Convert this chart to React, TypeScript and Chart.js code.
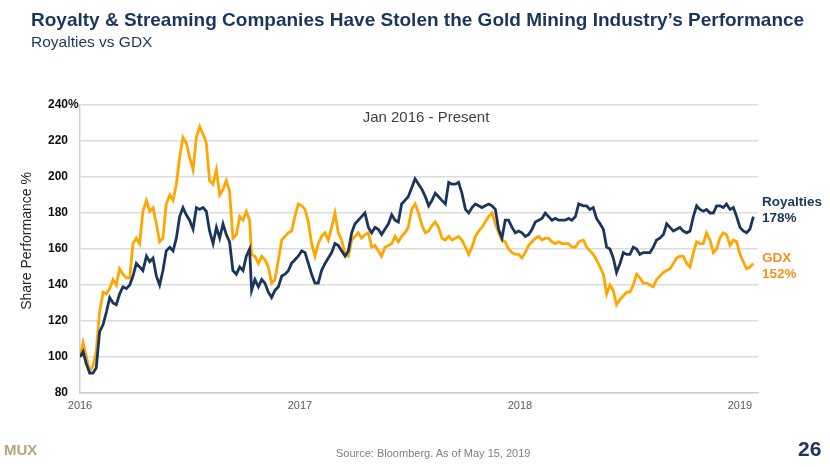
import React, { useEffect, useRef } from 'react';
import { Chart, registerables } from 'chart.js';

Chart.register(...registerables);

// Decimal-year dates of sampled points (Jan 2016 onward)
const dates = [
  2016.000, 2016.014, 2016.029, 2016.044, 2016.059, 2016.074, 2016.089, 2016.105, 2016.120, 2016.135,
  2016.150, 2016.165, 2016.180, 2016.195, 2016.211, 2016.226, 2016.241, 2016.256, 2016.271, 2016.286,
  2016.302, 2016.317, 2016.332, 2016.347, 2016.362, 2016.377, 2016.392, 2016.408, 2016.423, 2016.438,
  2016.453, 2016.468, 2016.483, 2016.498, 2016.514, 2016.529, 2016.544, 2016.559, 2016.574, 2016.589,
  2016.605, 2016.620, 2016.635, 2016.650, 2016.665, 2016.680, 2016.695, 2016.711, 2016.726, 2016.741,
  2016.756, 2016.771,
  2016.780, 2016.795, 2016.811, 2016.826, 2016.841, 2016.856, 2016.871, 2016.886, 2016.902, 2016.917,
  2016.932, 2016.947, 2016.962, 2016.977, 2016.992, 2017.008, 2017.023, 2017.038, 2017.053, 2017.068,
  2017.083, 2017.098, 2017.114, 2017.129, 2017.144, 2017.159, 2017.174, 2017.189, 2017.205, 2017.220,
  2017.235, 2017.250, 2017.265, 2017.280, 2017.295, 2017.311, 2017.326, 2017.341, 2017.356, 2017.371,
  2017.386, 2017.402, 2017.417, 2017.432, 2017.447, 2017.462, 2017.477, 2017.492, 2017.508, 2017.523,
  2017.539, 2017.555, 2017.570, 2017.585, 2017.600, 2017.615, 2017.630, 2017.645, 2017.661, 2017.676,
  2017.691, 2017.706, 2017.721, 2017.736, 2017.752, 2017.767, 2017.782, 2017.797, 2017.812, 2017.827,
  2017.842, 2017.858, 2017.873, 2017.888, 2017.903, 2017.918, 2017.933, 2017.948, 2017.964, 2017.979,
  2017.994, 2018.009, 2018.024, 2018.039, 2018.055, 2018.070, 2018.085, 2018.100, 2018.115, 2018.130,
  2018.145, 2018.161, 2018.176, 2018.191, 2018.206, 2018.221, 2018.236, 2018.252, 2018.267,
  2018.288, 2018.303, 2018.318, 2018.333, 2018.348, 2018.364, 2018.379, 2018.394, 2018.409, 2018.424,
  2018.439, 2018.455, 2018.470, 2018.485, 2018.500, 2018.515, 2018.530, 2018.545, 2018.561, 2018.576,
  2018.591, 2018.606, 2018.621, 2018.636, 2018.652, 2018.667, 2018.682, 2018.697, 2018.712, 2018.727,
  2018.742, 2018.758, 2018.773, 2018.788, 2018.803, 2018.818, 2018.833, 2018.848, 2018.864, 2018.879,
  2018.894, 2018.909, 2018.924, 2018.939, 2018.955, 2018.970, 2018.985, 2019.000, 2019.015, 2019.030,
  2019.045, 2019.061,
];

// Royalties share performance (%)
const royalties = [
  100, 103, 96, 91, 91, 94, 114, 118, 125, 133, 130, 129, 135, 139, 138, 140, 145, 152, 150, 148,
  156, 153, 155, 145, 140, 148, 159, 161, 159, 166, 178, 183, 179, 176, 171, 183, 182, 183, 181, 170,
  163, 172, 166, 174, 168, 164, 148, 146, 150, 148, 156, 160,
  137, 143, 139, 143, 141, 136, 133, 137, 139, 145, 146, 148, 152, 154, 156, 159, 158, 152, 146, 141,
  141, 148, 152, 155, 158, 163, 162, 159, 156, 159, 169, 174, 176, 178, 180, 172, 169, 172, 171, 168,
  171, 174, 179, 176, 175, 185, 187, 189, 194, 199,
  196, 193, 189, 184, 187, 191, 189, 187, 185, 197, 196, 196, 197, 191, 182, 180, 183, 185, 184, 183,
  184, 185, 184, 182, 171, 166, 176, 176, 172, 169, 170, 169, 167, 168, 171, 175, 176, 177, 180, 178,
  176, 177, 176, 176, 176, 177, 176, 178, 185,
  184, 184, 182, 183, 177, 174, 171, 161, 160, 155, 147, 152, 158, 157, 157, 161, 160, 157, 158, 158,
  158, 161, 165, 166, 168, 174, 172, 170, 171, 172, 170, 169, 170, 178, 184, 182, 181, 182, 180, 180,
  184, 184, 183, 185, 182, 183, 178, 172, 170, 169, 171, 178,
];

// GDX share performance (%)
const gdx = [
  100, 108, 100, 92, 95, 103, 125, 136, 135, 138, 143, 140, 149, 146, 144, 144, 163, 166, 163, 181,
  187, 181, 183, 174, 164, 166, 185, 190, 187, 196, 211, 222, 219, 211, 204, 222, 228, 224, 219, 198,
  196, 204, 190, 193, 198, 192, 166, 168, 178, 176, 181, 176,
  157, 156, 152, 156, 154, 150, 141, 143, 154, 165, 167, 169, 170, 178, 185, 184, 182, 175, 163, 156,
  163, 167, 169, 165, 172, 180, 169, 165, 157, 156, 165, 167, 169, 166, 168, 169, 161, 162, 159, 156,
  161, 162, 163, 167, 164, 167, 169, 172, 182, 185,
  180, 173, 169, 170, 173, 175, 172, 166, 165, 167, 165, 166, 167, 165, 161, 157, 161, 167, 170, 172,
  175, 178, 180, 174, 169, 165, 164, 160, 158, 157, 157, 155, 158, 162, 164, 166, 167, 165, 166, 166,
  164, 163, 164, 163, 163, 163, 161, 161, 164,
  165, 161, 159, 157, 154, 150, 146, 135, 140, 137, 129, 132, 134, 136, 136, 140, 146, 144, 141, 141,
  140, 139, 143, 145, 147, 148, 149, 152, 155, 156, 156, 152, 150, 158, 164, 163, 163, 169, 165, 158,
  160, 166, 169, 168, 162, 165, 164, 157, 153, 149, 150, 152,
];

const yearTicks = [2016, 2017, 2018, 2019];
const yMin = 80;
const yMax = 240;
const yStep = 20;
const xMin = 2016;
const xMax = 2019.082;

const NAVY = '#1b365d';
const ORANGE = '#ffa600';
const ORANGE_TEXT = '#f7901e';
const FONT = '"Liberation Sans", Arial, Helvetica, sans-serif';
const NARROW = '"Liberation Sans Narrow", "Arial Narrow", "Liberation Sans", Arial, sans-serif';

export default function App() {
  const ref = useRef<HTMLCanvasElement>(null);

  useEffect(() => {
    document.body.style.margin = '0';
    const canvas = ref.current;
    if (!canvas) return;

    const pctPlugin = {
      id: 'pctTop',
      afterDraw(chart: any) {
        const y = chart.scales.y;
        const ctx = chart.ctx;
        ctx.save();
        ctx.font = `bold 12px ${FONT}`;
        ctx.fillStyle = '#111';
        ctx.textAlign = 'left';
        ctx.textBaseline = 'middle';
        ctx.fillText('%', chart.chartArea.left - 12, y.getPixelForValue(yMax));
        ctx.restore();
      },
    };

    const chart = new Chart(canvas, {
      type: 'line',
      data: {
        datasets: [
          {
            label: 'Royalties',
            data: dates.map((d, i) => ({ x: d, y: royalties[i] })),
            borderColor: NAVY,
            backgroundColor: NAVY,
            borderWidth: 2.8,
            pointRadius: 0,
            tension: 0,
          },
          {
            label: 'GDX',
            data: dates.map((d, i) => ({ x: d, y: gdx[i] })),
            borderColor: ORANGE,
            backgroundColor: ORANGE,
            borderWidth: 2.8,
            pointRadius: 0,
            tension: 0,
          },
        ],
      },
      options: {
        animation: false,
        responsive: false,
        layout: { padding: { top: 105, right: 72, bottom: 44, left: 0 } },
        plugins: { legend: { display: false }, tooltip: { enabled: false } },
        scales: {
          x: {
            type: 'linear',
            min: xMin,
            max: xMax,
            grid: { display: false, drawTicks: false },
            border: { color: '#d0d0d0', width: 1.5 },
            ticks: {
              stepSize: 1,
              padding: 6,
              color: '#595959',
              font: { family: FONT, size: 11 },
              maxRotation: 0,
              autoSkip: false,
              callback: (v: any) => String(v),
            },
            afterBuildTicks: (s: any) => {
              s.ticks = yearTicks.map((v) => ({ value: v }));
            },
            afterFit: (s: any) => {
              s.height = 30;
            },
          },
          y: {
            min: yMin,
            max: yMax,
            grid: { color: '#dcdcdc', lineWidth: 1.5, drawTicks: false },
            border: { color: '#d0d0d0', width: 1.5 },
            ticks: {
              stepSize: yStep,
              padding: 12,
              color: '#111',
              font: { family: FONT, size: 12, weight: 'bold' },
            },
            afterFit: (s: any) => {
              s.width = 80;
            },
          },
        },
      },
      plugins: [pctPlugin],
    });
    return () => chart.destroy();
  }, []);

  const abs = (o: React.CSSProperties): React.CSSProperties => ({ position: 'absolute', whiteSpace: 'nowrap', ...o });

  return (
    <div style={{ position: 'relative', width: 830, height: 467, background: '#fff', overflow: 'hidden', fontFamily: FONT }}>
      <canvas ref={ref} width={830} height={467} style={{ position: 'absolute', left: 0, top: 0 }} />
      <div style={abs({ left: 31, top: 9, fontSize: 19, fontWeight: 'bold', color: NAVY, lineHeight: '22px' })}>
        Royalty &amp; Streaming Companies Have Stolen the Gold Mining Industry’s Performance
      </div>
      <div style={abs({ left: 31, top: 33, fontSize: 15.5, color: NAVY, lineHeight: '18px' })}>Royalties vs GDX</div>
      <div style={abs({ left: 426, top: 108, transform: 'translateX(-50%)', fontSize: 15, color: '#404040', lineHeight: '18px' })}>
        Jan 2016 - Present
      </div>
      <div style={abs({ left: 26, top: 241, transform: 'translate(-50%, -50%) rotate(-90deg)', fontSize: 14, color: '#262626', lineHeight: '16px' })}>
        Share Performance %
      </div>
      <div style={abs({ left: 762, top: 194, fontSize: 13.5, fontWeight: 'bold', color: NAVY, lineHeight: '16px' })}>
        Royalties<br />178%
      </div>
      <div style={abs({ left: 762, top: 250, fontSize: 13.5, fontWeight: 'bold', color: ORANGE_TEXT, lineHeight: '16px' })}>
        GDX<br />152%
      </div>
      <div style={abs({ left: 4, top: 441, fontSize: 15, fontWeight: 'bold', color: '#b5a677', fontFamily: NARROW, lineHeight: '18px' })}>MUX</div>
      <div style={abs({ left: 336, top: 446, fontSize: 11, color: '#7f7f7f', fontFamily: NARROW, lineHeight: '14px' })}>
        Source: Bloomberg. As of May 15, 2019
      </div>
      <div style={abs({ left: 798, top: 437, fontSize: 21, fontWeight: 'bold', color: NAVY, fontFamily: NARROW, lineHeight: '24px' })}>26</div>
    </div>
  );
}
